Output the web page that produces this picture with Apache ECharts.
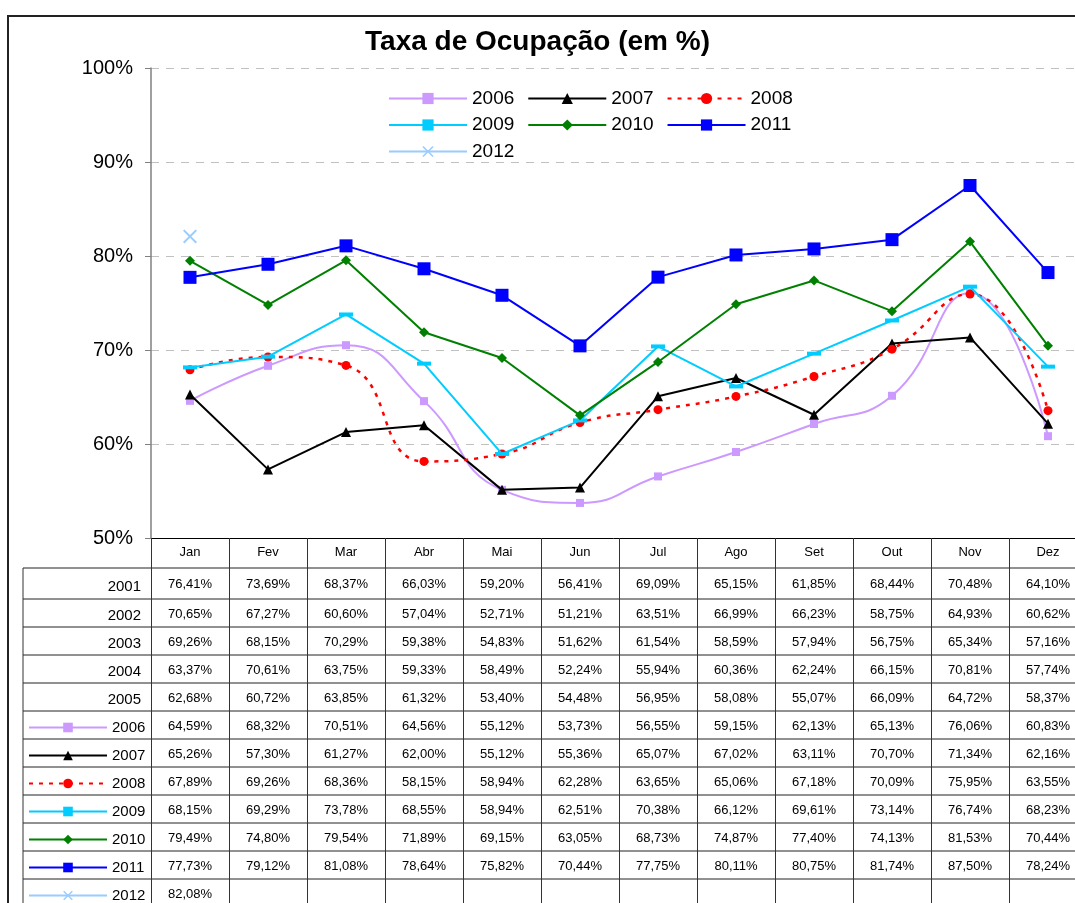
<!DOCTYPE html>
<html><head><meta charset="utf-8">
<script src="https://cdn.jsdelivr.net/npm/echarts@6/dist/echarts.min.js"></script>
<style>html,body{margin:0;padding:0;background:#fff}#c{width:1075px;height:903px}</style>
</head><body><div id="c"></div>
<script>
// ---------- DATA ----------
const months = ['Jan','Fev','Mar','Abr','Mai','Jun','Jul','Ago','Set','Out','Nov','Dez'];
const years = ['2001','2002','2003','2004','2005','2006','2007','2008','2009','2010','2011','2012'];
const yMin = 50, yMax = 100, yStep = 10;
const v2001 = [76.41,73.69,68.37,66.03,59.20,56.41,69.09,65.15,61.85,68.44,70.48,64.10];
const v2002 = [70.65,67.27,60.60,57.04,52.71,51.21,63.51,66.99,66.23,58.75,64.93,60.62];
const v2003 = [69.26,68.15,70.29,59.38,54.83,51.62,61.54,58.59,57.94,56.75,65.34,57.16];
const v2004 = [63.37,70.61,63.75,59.33,58.49,52.24,55.94,60.36,62.24,66.15,70.81,57.74];
const v2005 = [62.68,60.72,63.85,61.32,53.40,54.48,56.95,58.08,55.07,66.09,64.72,58.37];
const v2006 = [64.59,68.32,70.51,64.56,55.12,53.73,56.55,59.15,62.13,65.13,76.06,60.83];
const v2007 = [65.26,57.30,61.27,62.00,55.12,55.36,65.07,67.02,63.11,70.70,71.34,62.16];
const v2008 = [67.89,69.26,68.36,58.15,58.94,62.28,63.65,65.06,67.18,70.09,75.95,63.55];
const v2009 = [68.15,69.29,73.78,68.55,58.94,62.51,70.38,66.12,69.61,73.14,76.74,68.23];
const v2010 = [79.49,74.80,79.54,71.89,69.15,63.05,68.73,74.87,77.40,74.13,81.53,70.44];
const v2011 = [77.73,79.12,81.08,78.64,75.82,70.44,77.75,80.11,80.75,81.74,87.50,78.24];
const v2012 = [82.08];
const tableRows = [v2001,v2002,v2003,v2004,v2005,v2006,v2007,v2008,v2009,v2010,v2011,v2012];
const plottedYears = ['2006','2007','2008','2009','2010','2011','2012'];
const plottedValues = [v2006,v2007,v2008,v2009,v2010,v2011,v2012];

// ---------- LAYOUT / STYLE ----------
const FONT = 'Arial, "Liberation Sans", sans-serif';
const rowEdges = [568,599,627,655,683,711,739,767,795,823,851,879,907];
const styles = {
  '2006': {color:'#CC99FF', symbol:'rect', size:8, smooth:0.5, type:'solid', width:2},
  '2007': {color:'#000000', symbol:'triangle', size:10, smooth:false, type:'solid', width:2},
  '2008': {color:'#FF0000', symbol:'circle', size:9, smooth:0.5, type:[4,6], width:2.5},
  '2009': {color:'#00CCFF', symbol:'rect', size:[14,4], smooth:false, type:'solid', width:2},
  '2010': {color:'#008000', symbol:'diamond', size:10, smooth:false, type:'solid', width:2},
  '2011': {color:'#0000FF', symbol:'rect', size:13, smooth:false, type:'solid', width:2},
  '2012': {color:'#99CCFF', symbol:'path://M0,1L1,0L5,4L9,0L10,1L6,5L10,9L9,10L5,6L1,10L0,9L4,5Z', size:14, smooth:false, type:'solid', width:2}
};
const fmt = v => v.toFixed(2).replace('.', ',') + '%';

const chart = echarts.init(document.getElementById('c'));

const series = plottedYears.map((y, i) => {
  const s = styles[y];
  return {
    name: y, type: 'line', data: plottedValues[i],
    symbol: s.symbol, symbolSize: s.size, smooth: s.smooth,
    lineStyle: {color: s.color, width: s.width, type: s.type},
    itemStyle: {color: s.color},
    z: 2 + i
  };
});

const topLegendRows = [['2006','2007','2008'], ['2009','2010','2011'], ['2012']];
const topLegendCenters = [96, 122.5, 149];
const legends = topLegendRows.map((row, r) => ({
  data: row, left: 388, top: topLegendCenters[r] - 7, orient: 'horizontal', padding: 0,
  itemWidth: 78, itemHeight: 14, itemGap: 13,
  textStyle: {fontFamily: FONT, fontSize: 19, color: '#000'}
}));
plottedYears.forEach(y => {
  const k = years.indexOf(y);
  const c = (rowEdges[k] + rowEdges[k+1]) / 2 + 1;
  legends.push({
    data: [y], left: 28, top: c - 6, orient: 'horizontal', padding: 0,
    itemWidth: 78, itemHeight: 12,
    textStyle: {fontFamily: FONT, fontSize: 15, color: '#000'}
  });
});

chart.setOption({
  backgroundColor: '#fff',
  animation: false,
  title: {
    text: 'Taxa de Ocupação (em %)', left: 'center', top: 28, padding: 0,
    textStyle: {fontFamily: FONT, fontSize: 28, fontWeight: 'bold', color: '#000'}
  },
  legend: legends,
  grid: {left: 151, top: 68, width: 936, height: 470, containLabel: false, outerBoundsMode: 'none'},
  xAxis: {
    type: 'category', data: months, boundaryGap: true,
    axisLine: {lineStyle: {color: '#000', width: 1}},
    axisTick: {show: true, length: 370, interval: 0, alignWithLabel: false, lineStyle: {color: '#333', width: 1}},
    axisLabel: {fontFamily: FONT, fontSize: 13, color: '#000', margin: 8, interval: 0},
    splitLine: {show: false}
  },
  yAxis: {
    type: 'value', min: yMin, max: yMax, interval: yStep,
    axisLine: {show: true, lineStyle: {color: '#808080', width: 1.5}},
    axisTick: {show: true, length: 6, lineStyle: {color: '#808080'}},
    axisLabel: {fontFamily: FONT, fontSize: 20, color: '#000', margin: 18, formatter: '{value}%'},
    splitLine: {show: true, lineStyle: {color: '#C0C0C0', type: [8, 7], width: 1}}
  },
  series: series
});

// ---------- TABLE (positions from the category axis) ----------
const colX = months.map((m, i) => chart.convertToPixel({xAxisIndex: 0}, i));
const g = [];
g.push({type: 'rect', shape: {x: 8, y: 16, width: 1090, height: 910}, style: {fill: 'none', stroke: '#222', lineWidth: 2}, silent: true});
rowEdges.forEach(y => {
  g.push({type: 'line', shape: {x1: 23, y1: y, x2: 1075, y2: y}, style: {stroke: '#222', lineWidth: 1}, silent: true});
});
g.push({type: 'line', shape: {x1: 23, y1: rowEdges[0], x2: 23, y2: 903}, style: {stroke: '#333', lineWidth: 1}, silent: true});
tableRows.forEach((vals, r) => {
  const cy = (rowEdges[r] + rowEdges[r+1]) / 2;
  vals.forEach((v, c) => {
    g.push({type: 'text', x: colX[c], y: cy + 1, silent: true,
      style: {text: fmt(v), font: '13px ' + FONT, fill: '#000', align: 'center', verticalAlign: 'middle'}});
  });
  if (plottedYears.indexOf(years[r]) < 0) {
    g.push({type: 'text', x: 141, y: cy + 3, silent: true,
      style: {text: years[r], font: '15px ' + FONT, fill: '#000', align: 'right', verticalAlign: 'middle'}});
  }
});
chart.setOption({graphic: g});
</script>
</body></html>
